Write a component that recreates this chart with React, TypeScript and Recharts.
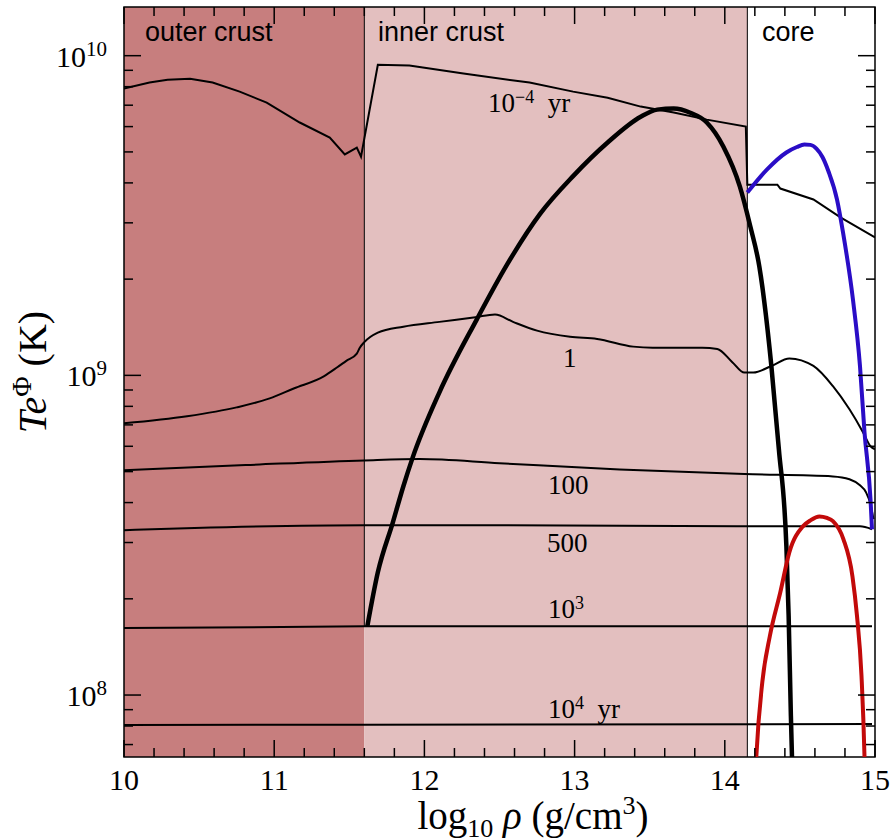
import { LineChart, Line, XAxis, YAxis, ReferenceArea, ReferenceLine } from "recharts"

// axis ticks
const xTicks = [10, 11, 12, 13, 14, 15]
const xMinorTicks = [
  10.2, 10.4, 10.6, 10.8, 11.2, 11.4, 11.6, 11.8, 12.2, 12.4, 12.6, 12.8,
  13.2, 13.4, 13.6, 13.8, 14.2, 14.4, 14.6, 14.8,
]
const yTicks = [1e8, 1e9, 1e10]
const yTickExponents = ["8", "9", "10"]
const yMinorTicks = [
  7e7, 8e7, 9e7, 2e8, 3e8, 4e8, 5e8, 6e8, 7e8, 8e8, 9e8,
  2e9, 3e9, 4e9, 5e9, 6e9, 7e9, 8e9, 9e9,
]
const yMin = 6.4e7
const yMax = 1.42e10

// regions (log10 rho)
const outerCrust = [10, 11.6]
const innerCrust = [11.6, 14.15]

// 10^-4 yr
const rhoA = [10.0, 10.17, 10.29, 10.44, 10.59, 10.77, 10.95, 11.17, 11.37, 11.47, 11.55, 11.578, 11.69, 11.9, 12.26, 12.7, 12.99, 13.22, 13.44, 13.66, 13.88, 14.14, 14.15, 14.35, 14.37, 14.59, 14.77, 15.0]
const tempA = [7.89e9, 8.24e9, 8.41e9, 8.47e9, 8.24e9, 7.72e9, 7.13e9, 6.18e9, 5.54e9, 4.91e9, 5.16e9, 4.83e9, 9.37e9, 9.31e9, 8.79e9, 8.24e9, 7.72e9, 7.39e9, 6.93e9, 6.64e9, 6.31e9, 6.0e9, 3.95e9, 3.95e9, 3.84e9, 3.55e9, 3.12e9, 2.7e9]

// 1 yr
const rho1 = [10.0, 10.42, 10.75, 10.97, 11.13, 11.33, 11.42, 11.48, 11.55, 11.57, 11.6, 11.69, 11.86, 12.1, 12.34, 12.47, 12.59, 12.75, 12.97, 13.15, 13.39, 13.52, 13.85, 13.95, 14.05, 14.13, 14.19, 14.31, 14.43, 14.59, 14.72, 14.83, 14.92, 14.97, 15.0]
const temp1 = [7.08e8, 7.45e8, 7.94e8, 8.47e8, 9.1e8, 9.93e8, 1.06e9, 1.11e9, 1.17e9, 1.22e9, 1.27e9, 1.36e9, 1.42e9, 1.47e9, 1.52e9, 1.55e9, 1.47e9, 1.38e9, 1.32e9, 1.3e9, 1.23e9, 1.22e9, 1.22e9, 1.21e9, 1.1e9, 1.02e9, 1.02e9, 1.07e9, 1.13e9, 1.07e9, 9.25e8, 7.83e8, 6.64e8, 6.0e8, 5.87e8]

// 100 yr
const rho100 = [10.0, 10.81, 11.6, 11.97, 12.5, 13.3, 14.13, 14.72, 14.83, 14.9, 14.94, 14.97, 14.99]
const temp100 = [5.05e8, 5.24e8, 5.42e8, 5.47e8, 5.31e8, 5.08e8, 4.91e8, 4.83e8, 4.73e8, 4.53e8, 4.31e8, 3.95e8, 3.55e8]

// 500 yr
const rho500 = [10.0, 10.47, 11.6, 12.5, 14.13, 14.9, 14.98]
const temp500 = [3.28e8, 3.33e8, 3.4e8, 3.4e8, 3.37e8, 3.37e8, 3.3e8]

// 10^3 yr
const rho1e3 = [10.0, 11.6, 14.98]
const temp1e3 = [1.62e8, 1.64e8, 1.64e8]

// 10^4 yr
const rho1e4 = [10.0, 11.6, 14.98]
const temp1e4 = [8.06e7, 8.08e7, 8.11e7]

// critical temperature, neutron singlet (thick black)
const rhoTc = [11.62, 11.69, 11.79, 11.86, 11.92, 12.1, 12.35, 12.55, 12.77, 12.99, 13.22, 13.44, 13.55, 13.66, 13.77, 13.88, 13.99, 14.1, 14.17, 14.23, 14.31, 14.36, 14.41, 14.425, 14.44, 14.455]
const tempTc = [1.64e8, 2.42e8, 3.47e8, 4.5e8, 5.5e8, 8.85e8, 1.5e9, 2.22e9, 3.2e9, 4.2e9, 5.35e9, 6.44e9, 6.78e9, 6.83e9, 6.63e9, 6.18e9, 5.2e9, 3.9e9, 2.92e9, 2.19e9, 1.07e9, 5.87e8, 2.92e8, 1.77e8, 8.6e7, 4.7e7]

// proton (blue)
const rhoBlue = [14.15, 14.28, 14.41, 14.48, 14.53, 14.57, 14.61, 14.65, 14.69, 14.747, 14.787, 14.853, 14.9, 14.93, 14.97, 14.98]
const tempBlue = [3.73e9, 4.4e9, 4.98e9, 5.18e9, 5.27e9, 5.26e9, 5.12e9, 4.82e9, 4.35e9, 3.55e9, 2.8e9, 1.73e9, 1.07e9, 6.64e8, 4.1e8, 3.3e8]

// neutron triplet (red)
const rhoRed = [14.2, 14.21, 14.25, 14.3, 14.37, 14.43, 14.52, 14.57, 14.63, 14.68, 14.72, 14.79, 14.85, 14.88, 14.91, 14.93, 14.935]
const tempRed = [5.1e7, 6.44e7, 1.1e8, 1.53e8, 2.1e8, 2.8e8, 3.37e8, 3.52e8, 3.62e8, 3.58e8, 3.5e8, 3.07e8, 2.35e8, 1.77e8, 1.15e8, 6.44e7, 5.1e7]

const toPoints = (rho: number[], temp: number[]) => rho.map((x, i) => ({ x, t: temp[i] }))

const serif = "'Liberation Serif', 'DejaVu Serif', serif"
const sans = "'Liberation Sans', Arial, sans-serif"

// tick lengths in data units (x per px = 1/150.2, one decade = 320 px)
const xMajorLen = 17 / 150.2
const xMinorLen = 9 / 150.2
const yMajorFac = Math.pow(10, 17 / 320)
const yMinorFac = Math.pow(10, 9 / 320)

function XTick({ x, y, payload }: any) {
  return (
    <text x={x} y={y + 33} textAnchor="middle" fontFamily={serif} fontSize={30} fill="#000">
      {payload.value}
    </text>
  )
}

function YTick({ x, y, payload }: any) {
  const i = yTicks.indexOf(payload.value)
  return (
    <text x={x - 17} y={y + 11} textAnchor="end" fontFamily={serif} fontSize={30} fill="#000">
      <tspan>10</tspan>
      <tspan dy={-11} fontSize={21}>{yTickExponents[i]}</tspan>
    </text>
  )
}

const tickLine = (key: string, a: { x: number; y: number }, b: { x: number; y: number }) => (
  <ReferenceLine key={key} segment={[a, b]} stroke="#000" strokeWidth={1.5} ifOverflow="visible" />
)

export default function App() {
  const thin = { stroke: "#000", strokeWidth: 2, dot: false, isAnimationActive: false, dataKey: "t" }
  return (
    <div style={{ position: "absolute", left: 0, top: 0, width: 894, height: 840, background: "#fff" }}>
      <LineChart width={894} height={840} margin={{ top: 7, right: 19, bottom: 0, left: 0 }}>
        <XAxis
          dataKey="x"
          type="number"
          domain={[10, 15]}
          ticks={xTicks}
          height={83}
          tickLine={false}
          axisLine={false}
          tickSize={0}
          tickMargin={0}
          tick={<XTick />}
          allowDataOverflow
        />
        <YAxis
          type="number"
          scale="log"
          domain={[yMin, yMax]}
          ticks={yTicks}
          width={124}
          tickLine={false}
          axisLine={false}
          tickSize={0}
          tickMargin={0}
          tick={<YTick />}
          allowDataOverflow
        />
        <ReferenceArea x1={outerCrust[0]} x2={outerCrust[1]} fill="#C77E7E" fillOpacity={1} stroke="none" />
        <ReferenceArea x1={innerCrust[0]} x2={innerCrust[1]} fill="#E3BFBF" fillOpacity={1} stroke="none" />
        <ReferenceLine segment={[{ x: innerCrust[0], y: temp1e3[1] }, { x: innerCrust[0], y: yMax }]} stroke="#000" strokeWidth={1} />
        <ReferenceLine x={innerCrust[1]} stroke="#000" strokeWidth={1} />

        <Line data={toPoints(rhoA, tempA)} type="linear" {...thin} />
        <Line data={toPoints(rho1, temp1)} type="monotone" {...thin} />
        <Line data={toPoints(rho100, temp100)} type="monotone" {...thin} />
        <Line data={toPoints(rho500, temp500)} type="monotone" {...thin} />
        <Line data={toPoints(rho1e3, temp1e3)} type="linear" {...thin} />
        <Line data={toPoints(rho1e4, temp1e4)} type="linear" {...thin} />
        <Line data={toPoints(rhoTc, tempTc)} type="monotone" dataKey="t" stroke="#000" strokeWidth={4.5} dot={false} isAnimationActive={false} />
        <Line data={toPoints(rhoBlue, tempBlue)} type="monotone" dataKey="t" stroke="#2A0DC6" strokeWidth={4} dot={false} isAnimationActive={false} />
        <Line data={toPoints(rhoRed, tempRed)} type="monotone" dataKey="t" stroke="#C20A0A" strokeWidth={4} dot={false} isAnimationActive={false} />

        {xTicks.map((v) => tickLine(`xb${v}`, { x: v, y: yMin }, { x: v, y: yMin * yMajorFac }))}
        {xTicks.map((v) => tickLine(`xt${v}`, { x: v, y: yMax }, { x: v, y: yMax / yMajorFac }))}
        {xMinorTicks.map((v) => tickLine(`xbm${v}`, { x: v, y: yMin }, { x: v, y: yMin * yMinorFac }))}
        {xMinorTicks.map((v) => tickLine(`xtm${v}`, { x: v, y: yMax }, { x: v, y: yMax / yMinorFac }))}
        {yTicks.map((v) => tickLine(`yl${v}`, { x: 10, y: v }, { x: 10 + xMajorLen, y: v }))}
        {yTicks.map((v) => tickLine(`yr${v}`, { x: 15 - xMajorLen, y: v }, { x: 15, y: v }))}
        {yMinorTicks.map((v) => tickLine(`ylm${v}`, { x: 10, y: v }, { x: 10 + xMinorLen, y: v }))}
        {yMinorTicks.map((v) => tickLine(`yrm${v}`, { x: 15 - xMinorLen, y: v }, { x: 15, y: v }))}

        <ReferenceArea x1={10} x2={15} fill="none" stroke="#000" strokeWidth={1.5} />
      </LineChart>

      <svg width={894} height={840} style={{ position: "absolute", left: 0, top: 0, pointerEvents: "none" }}>
        <g fontFamily={sans} fontSize={27} fill="#000">
          <text x={145} y={41}>outer crust</text>
          <text x={378} y={41}>inner crust</text>
          <text x={762} y={41}>core</text>
        </g>
        <g fontFamily={serif} fontSize={27} fill="#000">
          <text x={488} y={112}>
            10<tspan dy={-9} fontSize={18}>−4</tspan>
            <tspan dy={9}>{"\u00a0\u00a0yr"}</tspan>
          </text>
          <text x={563} y={367}>1</text>
          <text x={548} y={494}>100</text>
          <text x={547} y={552}>500</text>
          <text x={548} y={618}>
            10<tspan dy={-9} fontSize={18}>3</tspan>
          </text>
          <text x={548} y={718}>
            10<tspan dy={-9} fontSize={18}>4</tspan>
            <tspan dy={9}>{"\u00a0\u00a0yr"}</tspan>
          </text>
        </g>
        <text x={533} y={829} textAnchor="middle" fontFamily={serif} fontSize={39} fill="#000">
          log<tspan dy={8} fontSize={26}>10</tspan>
          <tspan dy={-8} fontStyle="italic">{"\u00a0"}ρ</tspan>
          <tspan>{"\u00a0"}(g/cm</tspan>
          <tspan dy={-15} fontSize={26}>3</tspan>
          <tspan dy={15}>)</tspan>
        </text>
        <text
          transform="translate(46,372) rotate(-90)"
          textAnchor="middle"
          fontFamily={serif}
          fontSize={40}
          fill="#000"
        >
          <tspan fontStyle="italic">Te</tspan>
          <tspan dy={-15} fontSize={28}>Φ</tspan>
          <tspan dy={15}>{"\u00a0"}(K)</tspan>
        </text>
      </svg>
    </div>
  )
}
